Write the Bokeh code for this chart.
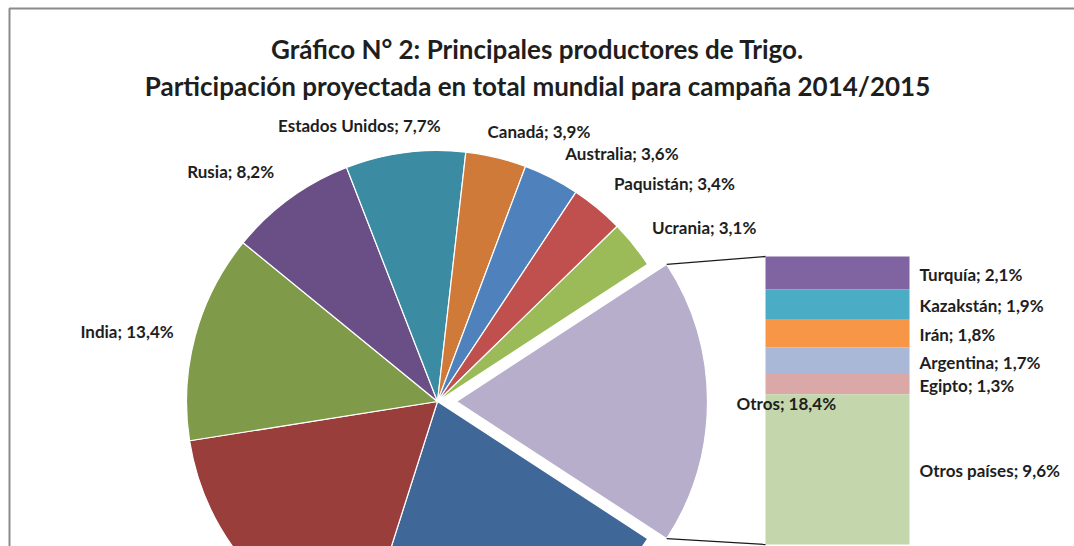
import math
from bokeh.plotting import figure
from bokeh.models import Range1d
from bokeh.core.properties import value
from bokeh.embed import file_html
from bokeh.resources import INLINE

# ---------------- data ----------------
title_lines = [
    "Gráfico N° 2: Principales productores de Trigo.",
    "Participación proyectada en total mundial para campaña 2014/2015",
]
# clockwise order, starting with the exploded "Otros" slice
pie_names = ["Otros", "Unión Europea", "China", "India", "Rusia", "Estados Unidos",
             "Canadá", "Australia", "Paquistán", "Ucrania"]
pie_values = [18.4, 20.7, 17.6, 13.4, 8.2, 7.7, 3.9, 3.6, 3.4, 3.1]
pie_colors = ["#B7AECB", "#3F6797", "#9A3E3C", "#7F9A48", "#6A4F86", "#3B8BA2",
              "#CF7A38", "#4F81BD", "#C0504D", "#9BBB59"]

bar_names = ["Turquía", "Kazakstán", "Irán", "Argentina", "Egipto", "Otros países"]
bar_values = [2.1, 1.9, 1.8, 1.7, 1.3, 9.6]
bar_colors = ["#8064A2", "#4BACC6", "#F79646", "#A9B8D6", "#D9A8A7", "#C4D6AB"]

# ---------------- layout ----------------
W, H = 1074, 546
CX, CY = 437, H - 401
R = 251
EXPLODE = 19
BAR_L, BAR_R = 765, 909
BAR_TOP, BAR_BOT = H - 256, H - 544
FONT = value("Lato")
TXT = "#1e1e1e"
LABEL_SIZE = "17px"
TITLE_SIZE = "26px"
TITLE_BASELINES = [48, 85]
label_nudge = {"Estados Unidos": (-44, 0), "Canadá": (-19, 0),
               "Paquistán": (0, -4), "Rusia": (0, -5), "India": (0, 3),
               "Otros": (7, 2)}


def fmt(name, v):
    return f"{name}; {v:.1f}%".replace(".", ",")


p = figure(width=W, height=H, x_range=Range1d(0, W), y_range=Range1d(0, H),
           output_backend="svg", toolbar_location=None, min_border=0,
           x_axis_location=None, y_axis_location=None)
p.grid.visible = False
p.outline_line_color = None
p.background_fill_color = "white"
p.border_fill_color = "white"

# chart frame (left & top edges visible)
p.quad(left=9, right=W + 20, top=H - 8, bottom=-20, fill_color=None,
       line_color="#8a8a8a", line_width=2)

# title
for line, base in zip(title_lines, TITLE_BASELINES):
    p.text(x=[W / 2], y=[H - base], text=[line], text_font=FONT,
           text_font_style="bold", text_font_size=TITLE_SIZE, text_color=TXT,
           text_align="center", text_baseline="alphabetic")

# pie
total = sum(pie_values)
theta = 90 - pie_values[0] / total * 360 / 2  # clockwise from 12 o'clock
labels = []
otros_geom = None
for name, v, col in zip(pie_names, pie_values, pie_colors):
    span = v / total * 360
    t1, t2 = theta, theta + span
    mid = math.radians((t1 + t2) / 2)
    cx, cy = CX, CY
    if name == "Otros":
        cx += EXPLODE * math.sin(mid)
        cy += EXPLODE * math.cos(mid)
        otros_geom = (cx, cy, t1, t2)
    p.wedge(x=cx, y=cy, radius=R, start_angle=math.radians(90 - t2),
            end_angle=math.radians(90 - t1), fill_color=col,
            line_color="white", line_width=1.2)
    # label position from slice mid-angle
    ax = cx + (R + 15) * math.sin(mid)
    ay = cy + (R + 15) * math.cos(mid)
    ay += 12 * math.cos(mid)
    side = math.sin(mid)
    if abs(side) < 0.2:
        align = "center"
    elif side > 0:
        align = "left"
        ax += 7
    else:
        align = "right"
        ax -= 7
    dx, dy = label_nudge.get(name, (0, 0))
    ax += dx
    ay -= dy
    if 0 < ay < H:
        labels.append((ax, ay, fmt(name, v), align))
    theta = t2

# stacked bar for "Otros"
scale = (BAR_TOP - BAR_BOT) / sum(bar_values)
top = BAR_TOP
tops, bots = [], []
for v in bar_values:
    tops.append(top)
    bots.append(top - v * scale)
    top -= v * scale
p.quad(left=BAR_L, right=BAR_R, top=tops, bottom=bots, fill_color=bar_colors,
       line_color=None)
p.text(x=[BAR_R + 10] * len(bar_names), y=[(a + b) / 2 - 1.5 for a, b in zip(tops, bots)],
       text=[fmt(n, v) for n, v in zip(bar_names, bar_values)], text_font=FONT,
       text_font_style="bold", text_font_size=LABEL_SIZE, text_color=TXT,
       text_align="left", text_baseline="middle")

# connector lines
ocx, ocy, t1, t2 = otros_geom
x0 = [ocx + R * math.sin(math.radians(t1)), ocx + R * math.sin(math.radians(t2))]
y0 = [ocy + R * math.cos(math.radians(t1)), ocy + R * math.cos(math.radians(t2))]
p.segment(x0=x0, y0=y0, x1=[BAR_L, BAR_L], y1=[BAR_TOP, BAR_BOT],
          line_color="#1a1a1a", line_width=1.3)

# pie labels on top of everything
for x, y, t, a in labels:
    p.text(x=[x], y=[y], text=[t], text_font=FONT, text_font_style="bold",
           text_font_size=LABEL_SIZE, text_color=TXT, text_align=a,
           text_baseline="middle")

open("out.html", "w").write(file_html(p, INLINE))
